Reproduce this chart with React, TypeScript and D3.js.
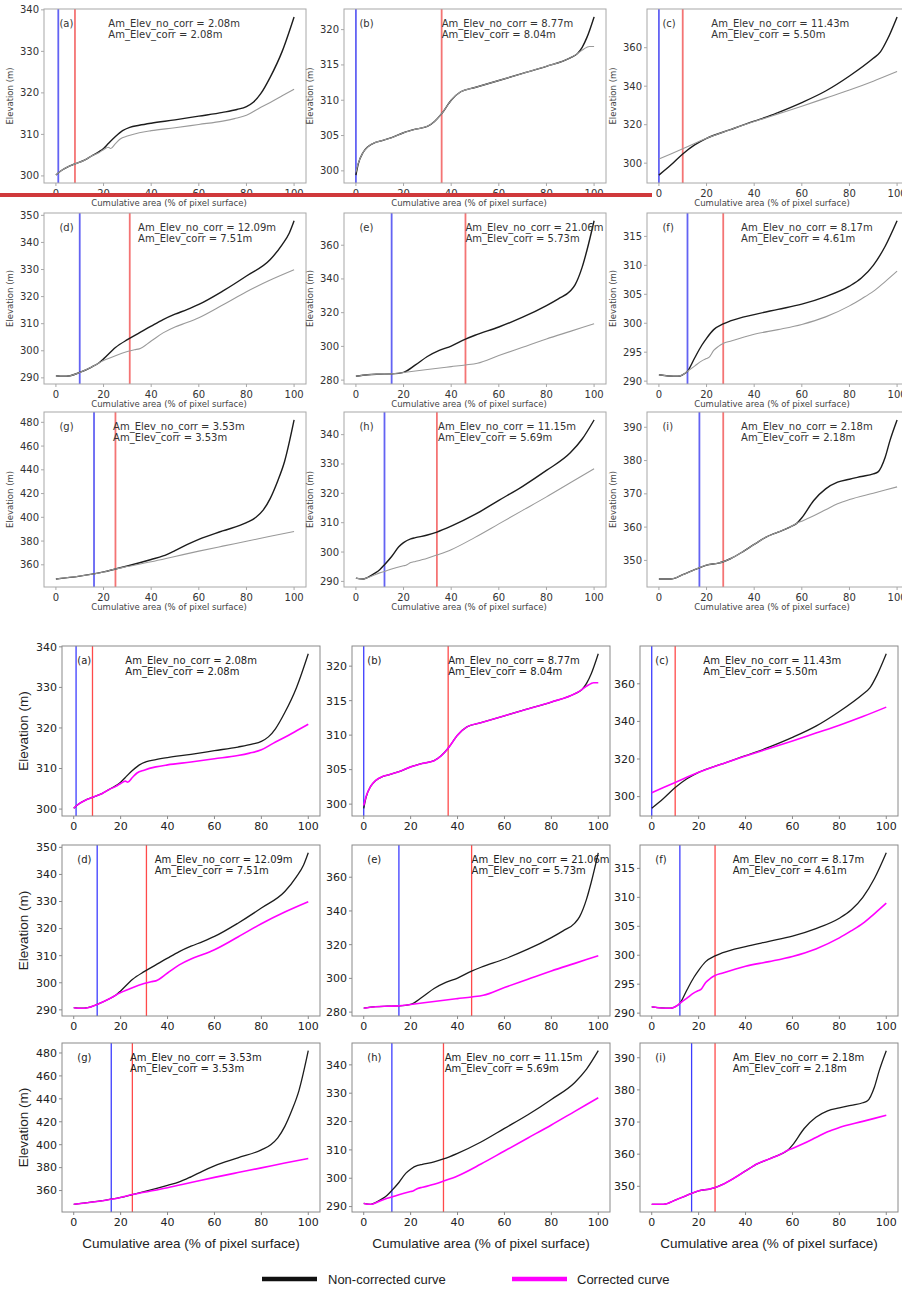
import React from "react";
import * as d3 from "d3";

type Pt = [number, number];

// ---- data (x = cumulative area %, y = elevation m) ----
const panelTags = ["(a)", "(b)", "(c)", "(d)", "(e)", "(f)", "(g)", "(h)", "(i)"];
const amNoCorr = ["2.08", "8.77", "11.43", "12.09", "21.06", "8.17", "3.53", "11.15", "2.18"];
const amCorr = ["2.08", "8.04", "5.50", "7.51", "5.73", "4.61", "3.53", "5.69", "2.18"];
const blueAt = [1, 0, 0, 10, 15, 12, 16, 12, 17];
const redAt = [8, 36, 10, 31, 46, 27, 25, 34, 27];
const noteAt = [22, 36, 22, 34.5, 46, 34.5, 24, 34.5, 34.5];
const xTicks = [0, 20, 40, 60, 80, 100];
const yTicks = [
  [300, 310, 320, 330, 340],
  [300, 305, 310, 315, 320],
  [300, 320, 340, 360],
  [290, 300, 310, 320, 330, 340, 350],
  [280, 300, 320, 340, 360],
  [290, 295, 300, 305, 310, 315],
  [360, 380, 400, 420, 440, 460, 480],
  [290, 300, 310, 320, 330, 340],
  [350, 360, 370, 380, 390],
];

const aNoCorr: Pt[] = [[0,300.2],[2,301.2],[5,302.2],[8,302.9],[12,303.8],[15,304.8],[18,305.8],[20,306.6],[22,307.8],[25,309.5],[28,310.9],[31,311.7],[35,312.2],[40,312.7],[50,313.5],[60,314.4],[70,315.3],[76,316],[80,316.7],[83,317.8],[86,319.8],[90,323.8],[95,330],[100,338.3]];
const aCorr: Pt[] = [[0,300.2],[2,301.2],[5,302.2],[8,302.9],[12,303.8],[15,304.8],[18,305.6],[20,306.3],[22,306.9],[23,306.6],[25,307.8],[27,308.9],[30,309.6],[35,310.4],[40,310.9],[50,311.6],[60,312.4],[70,313.2],[75,313.8],[80,314.6],[85,316.2],[90,317.7],[95,319.3],[100,320.9]];
const bNoCorr: Pt[] = [[0,299.4],[1,301],[3,302.6],[5,303.4],[8,304],[10,304.2],[15,304.7],[20,305.4],[25,305.9],[30,306.3],[33,307],[36,308.1],[40,310],[44,311.2],[50,311.8],[60,312.8],[70,313.8],[80,314.8],[90,316],[93,316.6],[95,317.5],[97,318.9],[100,321.8]];
const bCorr: Pt[] = [[0,299.8],[1,301.1],[3,302.6],[5,303.4],[8,304],[10,304.2],[15,304.7],[20,305.4],[25,305.9],[30,306.3],[33,307],[36,308.1],[40,310],[44,311.2],[50,311.8],[60,312.8],[70,313.8],[80,314.8],[90,316],[93,316.6],[95,317.1],[97,317.5],[98,317.6],[100,317.6]];
const cNoCorr: Pt[] = [[0,293.8],[5,299],[10,304.8],[15,309.5],[20,312.9],[30,317.4],[40,321.8],[45,323.9],[50,326.3],[60,331.5],[70,337.5],[80,345.3],[90,354.5],[93,357.8],[96,364.5],[100,376]];
const cCorr: Pt[] = [[0,302.1],[10,307.5],[20,312.9],[30,317.4],[40,321.6],[50,325.6],[60,329.6],[70,333.8],[80,338],[90,342.6],[100,347.6]];
const dNoCorr: Pt[] = [[0,290.8],[3,290.6],[6,290.8],[10,292],[15,294],[18,295.5],[20,297],[25,301.2],[30,304.1],[35,306.6],[40,309.1],[45,311.5],[50,313.5],[55,315.2],[60,317.1],[70,322],[80,327.6],[90,333.7],[95,339.2],[98,343.5],[100,348]];
const dCorr: Pt[] = [[0,290.8],[3,290.6],[6,290.8],[10,292],[15,294],[20,296.4],[25,298.2],[30,299.7],[33,300.4],[35,300.7],[40,303.6],[45,306.6],[50,308.8],[55,310.4],[60,312.2],[70,316.9],[80,321.8],[90,326.1],[100,329.9]];
const eNoCorr: Pt[] = [[0,282.3],[5,283.2],[10,283.5],[15,283.7],[20,284.6],[25,289],[30,294],[35,297.6],[40,300.2],[46,304.3],[50,306.6],[60,311.5],[70,317.3],[80,324.2],[85,328.2],[90,332.8],[92,336.5],[95,347],[97,357],[100,374.5]];
const eCorr: Pt[] = [[0,282.3],[5,283.2],[10,283.5],[15,283.7],[20,284.5],[30,286.3],[40,288],[46,289],[51,290],[60,294.6],[70,299.5],[80,304.4],[90,308.9],[100,313.4]];
const fNoCorr: Pt[] = [[0,291.1],[4,290.9],[8,290.85],[10,291.1],[12,291.7],[15,294],[18,296.2],[20,297.4],[23,298.9],[27,299.9],[30,300.4],[40,301.5],[50,302.4],[60,303.3],[70,304.6],[80,306.4],[85,307.8],[90,310],[95,313.3],[100,317.7]];
const fCorr: Pt[] = [[0,291.1],[4,290.9],[8,290.85],[10,291.1],[12,291.7],[15,292.6],[18,293.5],[20,293.9],[21,294.1],[23,295.3],[25,296],[27,296.5],[30,296.9],[40,298.1],[50,298.9],[60,299.8],[70,301.1],[80,303],[85,304.2],[90,305.5],[95,307.2],[100,309]];
const gNoCorr: Pt[] = [[0,348],[10,350.5],[20,354],[25,356.5],[30,359],[40,364.5],[45,367.5],[50,372],[55,377],[60,381.5],[70,388.5],[80,395.5],[84,400],[87,406],[90,416],[93,430],[96,447],[100,482]];
const gCorr: Pt[] = [[0,348],[10,350.5],[20,354],[25,356.5],[30,358.5],[40,362.5],[50,367],[60,371.5],[70,375.7],[80,379.8],[90,384],[100,388]];
const hNoCorr: Pt[] = [[0,291.1],[3,290.8],[5,291.4],[8,292.8],[10,294],[12,295.7],[15,298.5],[18,301.8],[20,303.2],[23,304.5],[25,304.9],[30,305.8],[34,306.8],[40,308.8],[50,312.8],[60,317.6],[70,322.4],[80,327.8],[90,333.8],[95,338.5],[100,345]];
const hCorr: Pt[] = [[0,291.1],[3,290.8],[5,291.3],[8,292.3],[10,292.9],[12,293.4],[15,294.2],[20,295.3],[21,295.5],[23,296.4],[25,296.8],[30,297.9],[34,299],[40,300.8],[50,305],[60,309.6],[70,314.2],[80,318.8],[90,323.6],[100,328.4]];
const iNoCorr: Pt[] = [[0,344.4],[5,344.4],[10,345.7],[15,347.2],[20,348.6],[25,349.2],[27,349.6],[30,350.5],[35,352.5],[40,354.8],[45,357],[50,358.5],[55,360],[58,361.2],[60,362.8],[65,368],[70,371.5],[75,373.5],[80,374.4],[85,375.2],[90,376],[92,376.6],[95,381],[97,386],[100,392.2]];
const iCorr: Pt[] = [[0,344.4],[5,344.4],[10,345.7],[15,347.2],[20,348.6],[25,349.2],[27,349.6],[30,350.5],[35,352.5],[40,354.8],[45,357],[50,358.5],[55,360],[58,361.2],[60,361.8],[65,363.4],[70,365.2],[75,367],[80,368.3],[90,370.2],[100,372.1]];

const noCorrSeries = [aNoCorr, bNoCorr, cNoCorr, dNoCorr, eNoCorr, fNoCorr, gNoCorr, hNoCorr, iNoCorr];
const corrSeries = [aCorr, bCorr, cCorr, dCorr, eCorr, fCorr, gCorr, hCorr, iCorr];

// ---- looks of the two halves ----
const DJ = "'DejaVu Sans', sans-serif";
const LS = "'Liberation Sans', Arial, sans-serif";

interface Look {
  id: string;
  cols: number[];
  rows: number[];
  w: number;
  hs: number[];
  tickFont: number;
  frame: string;
  text: string;
  corr: string;
  corrW: number;
  blackW: number;
  vW: number;
  blue: string;
  red: string;
}

const topLook: Look = {
  id: "t", cols: [44, 344, 647], rows: [9, 213, 412], w: 262, hs: [174, 171, 175],
  tickFont: 10, frame: "#a8a8a8", text: "#333", corr: "#9a9a9a", corrW: 1.1, blackW: 1.4,
  vW: 1.8, blue: "rgba(60,60,240,0.8)", red: "rgba(240,70,70,0.75)",
};
const botLook: Look = {
  id: "b", cols: [62, 352, 640], rows: [646, 845, 1043], w: 258, hs: [170, 171, 169],
  tickFont: 11, frame: "#8a8a8a", text: "#222", corr: "#ff00ff", corrW: 1.6, blackW: 1.3,
  vW: 1.3, blue: "#3c3cff", red: "#ff4a4a",
};

function Panel({ i, look }: { i: number; look: Look }) {
  const col = i % 3;
  const row = Math.floor(i / 3);
  const x0 = look.cols[col];
  const y0 = look.rows[row];
  const w = look.w;
  const h = look.hs[row];
  const nc = noCorrSeries[i];
  const c = corrSeries[i];
  const vals = nc.concat(c).map((d) => d[1]);
  const lo = d3.min(vals)!;
  const hi = d3.max(vals)!;
  const pad = (hi - lo) * 0.05;
  const xs = d3.scaleLinear().domain([-5, 105]).range([0, w]);
  const ys = d3.scaleLinear().domain([lo - pad, hi + pad]).range([h, 0]);
  const line = d3
    .line<Pt>()
    .x((d) => xs(d[0]))
    .y((d) => ys(d[1]))
    .curve(d3.curveMonotoneX);
  const clip = `clip-${look.id}-${i}`;
  return (
    <g transform={`translate(${x0},${y0})`}>
      <defs>
        <clipPath id={clip}>
          <rect x={0} y={0} width={w} height={h} />
        </clipPath>
      </defs>
      <g clipPath={`url(#${clip})`}>
        <line x1={xs(blueAt[i])} x2={xs(blueAt[i])} y1={0} y2={h} stroke={look.blue} strokeWidth={look.vW} />
        <line x1={xs(redAt[i])} x2={xs(redAt[i])} y1={0} y2={h} stroke={look.red} strokeWidth={look.vW} />
        <path d={line(nc)!} fill="none" stroke="#1c1c1c" strokeWidth={look.blackW} />
        <path d={line(c)!} fill="none" stroke={look.corr} strokeWidth={look.corrW} />
      </g>
      <rect x={0} y={0} width={w} height={h} fill="none" stroke={look.frame} strokeWidth={1} />
      {yTicks[i].map((t) => (
        <g key={t} transform={`translate(0,${ys(t)})`}>
          <line x1={-3} x2={0} stroke={look.frame} />
          <text x={-5} dy="0.35em" textAnchor="end" fontFamily={DJ} fontSize={look.tickFont} fill={look.text}>
            {t}
          </text>
        </g>
      ))}
      {xTicks.map((t) => (
        <g key={t} transform={`translate(${xs(t)},${h})`}>
          <line y1={0} y2={3} stroke={look.frame} />
          <text y={14} textAnchor="middle" fontFamily={DJ} fontSize={look.tickFont} fill={look.text}>
            {t}
          </text>
        </g>
      ))}
      <text x={xs(1.5)} y={18} fontFamily={DJ} fontSize={10} fill={look.text}>
        {panelTags[i]}
      </text>
      <text x={xs(noteAt[i])} y={18} fontFamily={DJ} fontSize={10} fill={look.text}>
        {`Am_Elev_no_corr = ${amNoCorr[i]}m`}
      </text>
      <text x={xs(noteAt[i])} y={28.5} fontFamily={DJ} fontSize={10} fill={look.text}>
        {`Am_Elev_corr = ${amCorr[i]}m`}
      </text>
      {look.id === "t" && (
        <>
          <text
            transform={`translate(-31,${h / 2}) rotate(-90)`}
            textAnchor="middle"
            fontFamily={DJ}
            fontSize={8.5}
            fill="#444"
          >
            Elevation (m)
          </text>
          <text x={w / 2 - 6} y={h + 23} textAnchor="middle" fontFamily={DJ} fontSize={8.5} fill="#444">
            Cumulative area (% of pixel surface)
          </text>
        </>
      )}
      {look.id === "b" && col === 0 && (
        <text
          transform={`translate(${28 - x0},${h / 2}) rotate(-90)`}
          textAnchor="middle"
          fontFamily={LS}
          fontSize={13.5}
          fill="#222"
        >
          Elevation (m)
        </text>
      )}
      {look.id === "b" && row === 2 && (
        <text x={w / 2} y={h + 36} textAnchor="middle" fontFamily={LS} fontSize={13.5} fill="#222">
          Cumulative area (% of pixel surface)
        </text>
      )}
    </g>
  );
}

export default function App() {
  const idx = d3.range(9);
  return (
    <svg
      width={902}
      height={1290}
      style={{ position: "absolute", left: 0, top: 0, background: "#fff" }}
    >
      <rect width={902} height={1290} fill="#fff" />
      {idx.map((i) => (
        <Panel key={`t${i}`} i={i} look={topLook} />
      ))}
      <line x1={0} x2={652} y1={195} y2={195} stroke="#d0393b" strokeWidth={4} />
      {idx.map((i) => (
        <Panel key={`b${i}`} i={i} look={botLook} />
      ))}
      <g fontFamily={LS} fontSize={13} fill="#222">
        <line x1={262} x2={317} y1={1279} y2={1279} stroke="#111" strokeWidth={4.5} />
        <text x={328} y={1284}>Non-corrected curve</text>
        <line x1={512} x2={567} y1={1279} y2={1279} stroke="#ff00ff" strokeWidth={4.5} />
        <text x={577} y={1284}>Corrected curve</text>
      </g>
    </svg>
  );
}
